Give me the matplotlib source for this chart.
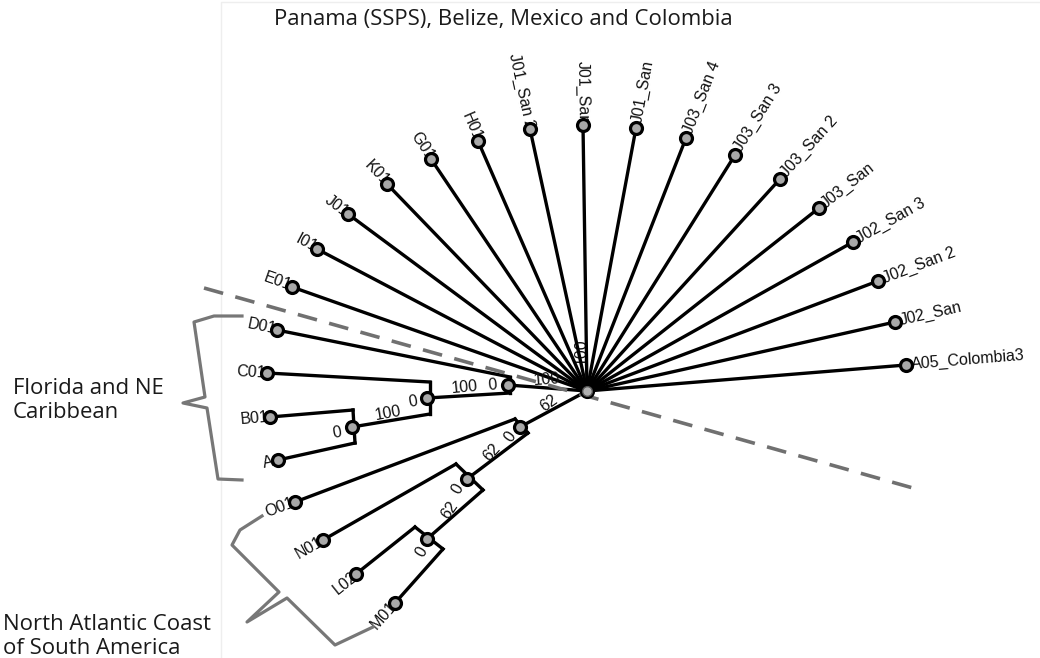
import numpy as np
import matplotlib.pyplot as plt

# tree, pixel coordinates (y grows downward)
root_xy = (587, 391)

fan_names = ['A05_Colombia3', 'J02_San', 'J02_San 2', 'J02_San 3', 'J03_San',
             'J03_San 2', 'J03_San 3', 'J03_San 4', 'J01_San', 'J01_San',
             'J01_San 2', 'H01', 'G01', 'K01', 'J01', 'I01', 'E01']
fan_x = [906, 895, 878, 853, 819, 780, 735, 686, 636, 583, 530, 478, 431, 387, 348, 317, 292]
fan_y = [365, 322, 281, 242, 208, 179, 155, 138, 128, 125, 129, 141, 159, 184, 214, 249, 287]

# internal nodes: circle, bar end 1, bar end 2, children (first on end 1)
nodes = {
    'n1': dict(xy=(508, 385), bar=((510, 377), (510, 393)), kids=['D01', 'n2']),
    'n2': dict(xy=(427, 398), bar=((430, 382), (430, 414)), kids=['C01', 'n3']),
    'n3': dict(xy=(352, 427), bar=((353, 410), (355, 443)), kids=['B01', 'A']),
    'm1': dict(xy=(520, 427), bar=((515, 419), (528, 433)), kids=['O01', 'm2']),
    'm2': dict(xy=(467, 479), bar=((456, 464), (483, 490)), kids=['N01', 'm3']),
    'm3': dict(xy=(427, 539), bar=((415, 527), (443, 549)), kids=['L02', 'M01']),
}
leaf_xy = {'D01': (277, 330), 'C01': (267, 373), 'B01': (270, 417), 'A': (278, 460),
           'O01': (295, 502), 'N01': (323, 540), 'L02': (356, 574), 'M01': (395, 603)}

# bootstrap / branch labels: text, x, y, rotation
support = [('100', 547, 380, 4), ('100', 465, 387, 5), ('0', 492, 385, 5),
           ('100', 388, 413, 10), ('0', 413, 402, 10), ('0', 337, 433, 10),
           ('62', 549, 403, 35), ('62', 492, 452, 48), ('0', 510, 437, 55),
           ('62', 450, 510, 55), ('0', 458, 489, 60), ('0', 422, 552, 60)]

fig = plt.figure(figsize=(10.4, 6.58), dpi=100)
ax = fig.add_axes([0, 0, 1, 1])
ax.set_xlim(0, 1040)
ax.set_ylim(658, 0)
ax.axis('off')

LW = 2.4
label_font = dict(family='Liberation Sans', fontsize=11.5, color='#111111')
region_font = dict(family='Open Sans', fontsize=15.9, color='#1a1a1a')

# faint screenshot frame
ax.plot([221, 221, 1040], [658, 2, 2], color='#eeeeee', lw=1, zorder=0)

# hidden vertical support label under the fan
ax.text(581, 352, '100', rotation=90, ha='center', va='center', zorder=1, **label_font)


def draw_leaf_label(name, x, y, px, py):
    ang = np.degrees(np.arctan2(py - y, x - px))
    ux, uy = np.cos(np.radians(ang)), -np.sin(np.radians(ang))
    if -90 < ang <= 90.5:
        rot, ha, off = ang, 'left', 5.5
    else:
        rot, ha, off = ang - 180, 'right', 1
    if name == 'A':
        off = 5
    ax.text(x + ux * off, y + uy * off, name, rotation=rot, rotation_mode='anchor',
            ha=ha, va='center', zorder=2, **label_font)


def circle(x, y):
    ax.plot([x], [y], 'o', ms=8.6, mfc='#a8a8a8', mec='black', mew=2.3, zorder=5)


# fan around the root
for name, x, y in zip(fan_names, fan_x, fan_y):
    ax.plot([root_xy[0], x], [root_xy[1], y], color='black', lw=LW,
            solid_capstyle='round', zorder=3)
    draw_leaf_label(name, x, y, *root_xy)
    circle(x, y)

# clades hanging off the root
for top in ['n1', 'm1']:
    ax.plot([root_xy[0], nodes[top]['xy'][0]], [root_xy[1], nodes[top]['xy'][1]],
            color='black', lw=LW, zorder=3)

for key, nd in nodes.items():
    (bx1, by1), (bx2, by2) = nd['bar']
    ax.plot([bx1, bx2], [by1, by2], color='black', lw=LW, zorder=3)
    for kid, (ex, ey) in zip(nd['kids'], nd['bar']):
        kx, ky = nodes[kid]['xy'] if kid in nodes else leaf_xy[kid]
        ax.plot([ex, kx], [ey, ky], color='black', lw=LW, zorder=3)
        if kid in leaf_xy:
            draw_leaf_label(kid, kx, ky, ex, ey)
            circle(kx, ky)
    circle(*nd['xy'])

for txt, x, y, rot in support:
    ax.text(x, y, txt, rotation=rot, ha='center', va='center', zorder=4, **label_font)

circle(*root_xy)
ax.plot([root_xy[0]], [root_xy[1]], 'o', ms=7, mfc='#b0b0b0', mec='#555555', mew=1, zorder=6)

# dashed separator
ax.plot([204, 920], [288, 490], color='#707070', lw=2.6, dashes=(5.5, 3.5), zorder=4)

# braces
ax.plot([242, 214, 194, 205, 183, 207, 218, 242],
        [316, 316, 322, 397, 403, 408, 479, 480],
        color='#777777', lw=2.3, solid_joinstyle='round', zorder=2)
ax.plot([262, 240, 232, 279, 247, 287, 335, 373],
        [516, 530, 545, 592, 622, 598, 645, 627],
        color='#777777', lw=2.3, solid_joinstyle='round', zorder=2)

# region labels
ax.text(503, 19, 'Panama (SSPS), Belize, Mexico and Colombia', ha='center', va='center',
        **region_font)
ax.text(13, 389, 'Florida and NE', ha='left', va='center', **region_font)
ax.text(13, 412, 'Caribbean', ha='left', va='center', **region_font)
ax.text(3, 624, 'North Atlantic Coast', ha='left', va='center', **region_font)
ax.text(3, 648, 'of South America', ha='left', va='center', **region_font)

fig.savefig('out.png', dpi=100)
